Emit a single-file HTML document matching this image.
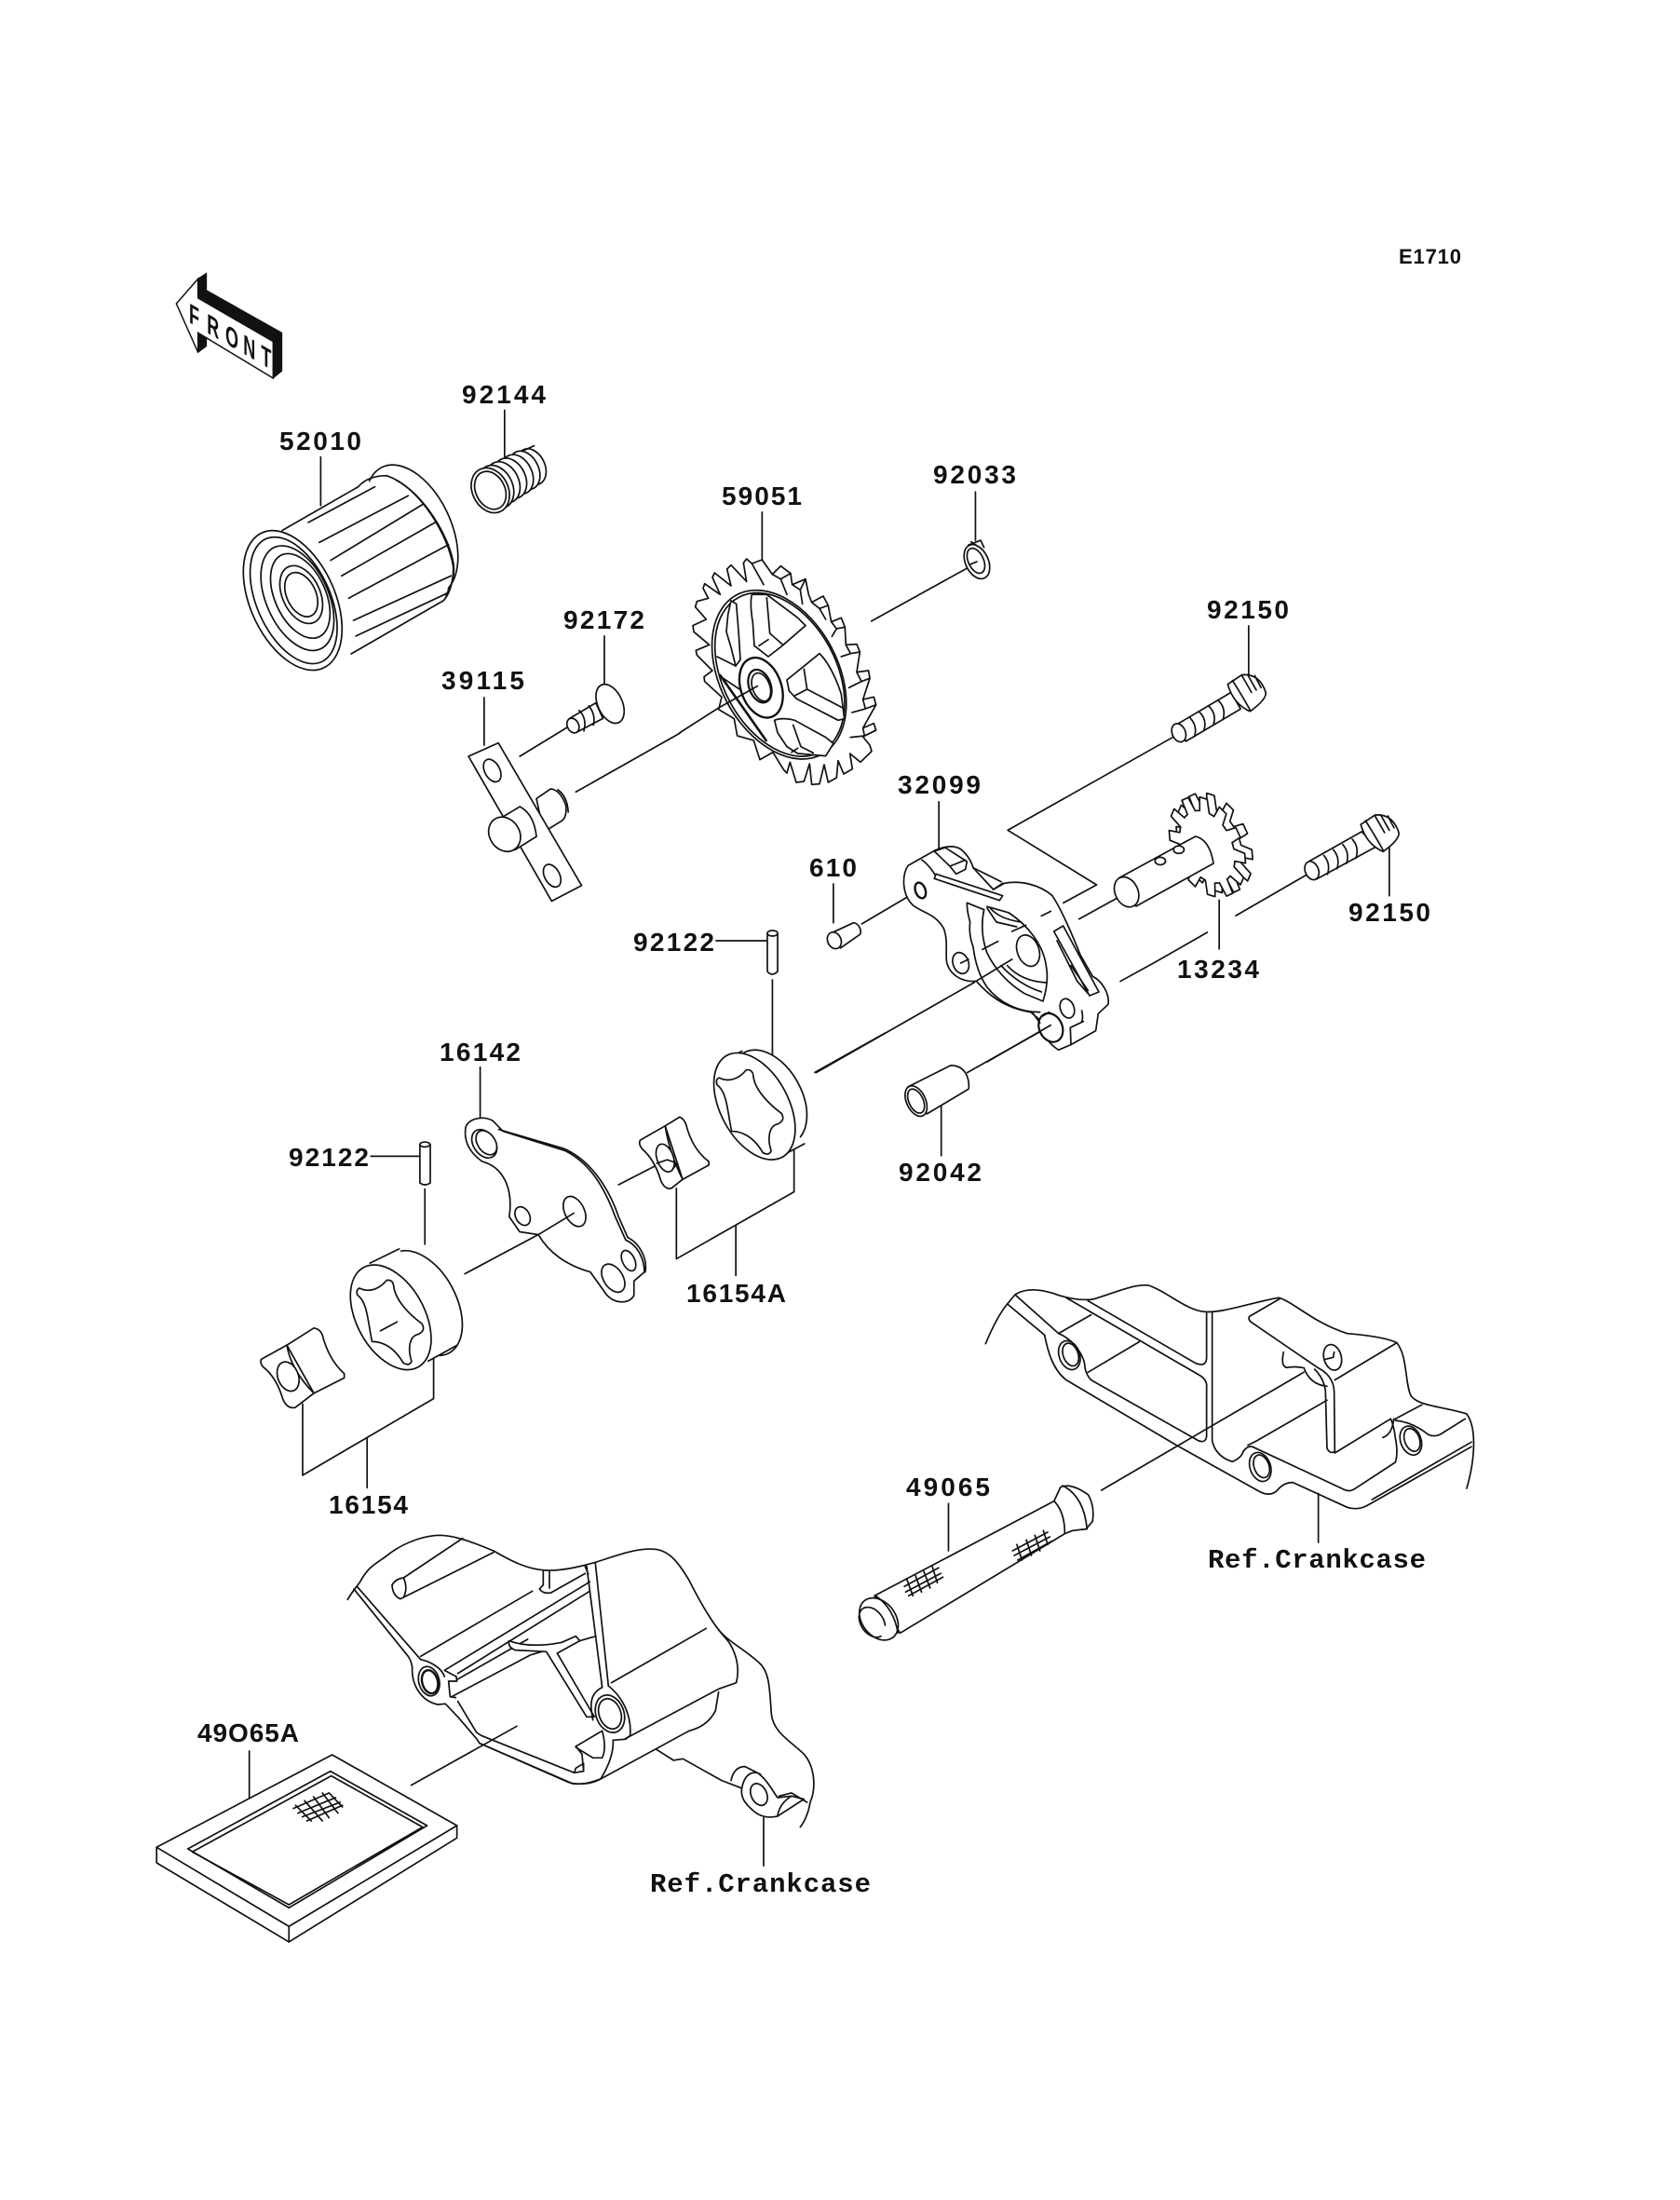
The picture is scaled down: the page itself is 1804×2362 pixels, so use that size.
<!DOCTYPE html>
<html><head><meta charset="utf-8"><style>
html,body{margin:0;padding:0;background:#fff}
svg{display:block}
svg *{vector-effect:non-scaling-stroke}
.d{fill:#fff;stroke:#111;stroke-width:1.7;stroke-linejoin:round;stroke-linecap:round}
.d .n,.n{fill:none}
text{font-family:"Liberation Sans",sans-serif;font-size:28px;font-weight:bold;fill:#111}
.m{font-family:"Liberation Mono",monospace;font-size:29px;font-weight:bold}
</style></head><body>
<svg width="1804" height="2362" viewBox="0 0 1804 2362" xmlns="http://www.w3.org/2000/svg">
<defs>
<polyline id="s" points="69.5,-18.6 70.9,-12.5 99.3,-10 99.3,10 70.9,12.5 69.5,18.6"/>
<g id="gear12"><circle r="70" stroke="none"/>
<use href="#s"/><use href="#s" transform="rotate(30)"/><use href="#s" transform="rotate(60)"/><use href="#s" transform="rotate(90)"/><use href="#s" transform="rotate(120)"/><use href="#s" transform="rotate(150)"/><use href="#s" transform="rotate(180)"/><use href="#s" transform="rotate(210)"/><use href="#s" transform="rotate(240)"/><use href="#s" transform="rotate(270)"/><use href="#s" transform="rotate(300)"/><use href="#s" transform="rotate(330)"/>
</g>
</defs>
<rect width="1804" height="2362" fill="#fff"/>

<!-- FRONT arrow -->
<g transform="translate(170,270) scale(.3333)">
<path fill="#111" stroke="#111" stroke-width="1" d="M128,88 L155,70 L155,125 L398,262 L398,385 L370,408 L370,290 L130,150Z"/>
<path fill="#111" stroke="#111" stroke-width="1" d="M128,325 L155,305 L155,270 L128,262Z"/>
<path fill="#fff" stroke="#111" stroke-width="1.5" d="M128,88 L58,168 L128,325 L128,262 L370,408 L370,290 L128,150Z"/>
</g>
<text transform="matrix(.6,.346,0,1,203,346)" x="0 32 65 97 129" y="0" style="font-size:30px">FRONT</text>

<g class="d" transform="translate(150,250) scale(.5102,.4783)">
<!-- leaders -->
<path class="n" d="M768,398V505M381,503V612M1310,627V740M978,905V1015M725,1043V1150M800,1175L900,1110M918,1255L1137,1123"/>
<!-- oil filter 52010 -->
<ellipse cx="572" cy="668" rx="85" ry="155" transform="rotate(-22 572 668)"/>
<path class="n" d="M540,555 C600,590 650,680 660,740 C665,770 655,800 640,818"/>
<path stroke="none" d="M300,668 L480,555 L660,760 L640,825 L445,945Z"/>
<path class="n" d="M300,668 L460,570 M445,945 L640,825 M460,570 Q480,545 520,545 C590,570 650,680 660,750 Q660,800 640,825 M355,650L495,570 M378,695L565,590 M402,735L595,610 M425,770L622,650 M440,820L650,700 M450,870L655,770 M455,905L645,810"/>
<ellipse cx="322" cy="825" rx="90" ry="165" transform="rotate(-22 322 825)"/>
<ellipse cx="324" cy="825" rx="78" ry="150" transform="rotate(-22 324 825)"/>
<ellipse cx="332" cy="820" rx="66" ry="124" transform="rotate(-22 332 820)"/>
<ellipse cx="338" cy="815" rx="54" ry="100" transform="rotate(-22 338 815)"/>
<ellipse cx="340" cy="812" rx="40" ry="68" transform="rotate(-22 340 812)"/>
<ellipse cx="340" cy="812" rx="31" ry="52" transform="rotate(-22 340 812)"/>
<!-- spring 92144 -->
<ellipse cx="825" cy="525" rx="28" ry="42" transform="rotate(-22 825 525)"/>
<ellipse cx="810" cy="533" rx="30" ry="45" transform="rotate(-22 810 533)"/>
<ellipse cx="795" cy="542" rx="31" ry="46" transform="rotate(-22 795 542)"/>
<ellipse cx="780" cy="551" rx="32" ry="47" transform="rotate(-22 780 551)"/>
<ellipse cx="765" cy="560" rx="33" ry="48" transform="rotate(-22 765 560)"/>
<ellipse cx="750" cy="570" rx="35" ry="50" transform="rotate(-22 750 570)"/>
<ellipse cx="738" cy="578" rx="38" ry="52" transform="rotate(-22 738 578)"/>
<ellipse cx="738" cy="578" rx="31" ry="44" transform="rotate(-22 738 578)"/>
<path class="n" d="M805,490 L830,478"/>
<!-- screw 92172 -->
<path d="M905,1090 L960,1055 L975,1090 L918,1122Z"/>
<ellipse cx="912" cy="1106" rx="12" ry="17" transform="rotate(-22 912 1106)"/>
<path class="n" d="M925,1072Q942,1090 935,1118 M945,1062Q960,1080 955,1105"/>
<ellipse cx="990" cy="1057" rx="26" ry="46" transform="rotate(-22 990 1057)"/>
<!-- plate 39115 -->
<path d="M835,1270 L865,1248 Q885,1250 897,1285 Q900,1315 885,1322 L850,1345Z"/>
<path class="n" d="M880,1250 Q900,1265 902,1300"/>
<path d="M692,1175 L755,1145 L930,1465 L867,1500Z"/>
<ellipse cx="742" cy="1207" rx="16" ry="27" transform="rotate(-25 742 1207)"/>
<ellipse cx="868" cy="1443" rx="16" ry="27" transform="rotate(-25 868 1443)"/>
<path d="M750,1320 L800,1288 Q830,1305 835,1355 L790,1385Z"/>
<ellipse cx="768" cy="1350" rx="32" ry="40" transform="rotate(-25 768 1350)"/>
</g>

<!-- sprocket 59051 -->
<g class="d" transform="translate(730,585) scale(.3333)">
<path d="M42,260 L85,240 L50,200 L55,182 L92,172 L75,140 L80,125 L130,160 L105,105 L112,90 L165,132 L152,78 L165,65 L215,118 L205,58 L215,45 L232,60 L265,48 L298,95 L325,68 L357,92 L362,128 L405,110 L415,160 L425,185 L462,165 L478,195 L488,248 L520,235 L532,265 L535,322 L570,320 L580,345 L570,410 L608,405 L612,430 L590,498 L625,490 L632,515 L590,590 L625,575 L632,597 L590,618 L612,645 L618,665 L582,700 L548,672 L556,722 L528,738 L510,695 L505,750 L478,765 L465,708 L450,770 L425,772 L418,705 L400,762 L375,765 L355,700 L345,735 L335,725 L300,668 L258,692 L238,630 L185,615 L175,560 L125,530 L135,490 L80,440 L78,425 L105,405 L55,355 L52,340 L95,322 L45,280Z"/>
<path class="n" d="M232,60 L270,128 M298,95 L325,110 L357,92 M325,110 L345,160 M362,128 L388,145 L405,110 M388,145 L395,190 M425,185 L450,205 L478,195 M450,205 L470,240 M488,248 L505,270 L532,265 M505,270 L490,295 M535,322 L550,350 L580,345 M550,350 L520,360 M570,410 L585,440 L612,430 M585,440 L545,460 M590,498 L598,528 L632,515 M598,528 L555,540 M590,590 L595,615 L632,597 M595,615 L550,620"/>
<ellipse cx="320" cy="418" rx="190" ry="291" transform="rotate(-28 320 418)"/>
<ellipse cx="322" cy="418" rx="183" ry="282" transform="rotate(-28 322 418)"/>
<path d="M165,180 L155,225 L150,280 L165,330 L180,390 L195,370 L190,290 L182,190Z"/>
<path class="n" d="M120,360 L180,390"/>
<path d="M232,160 Q225,190 235,250 L240,325 L285,360 L330,325 L405,260 L380,235 L280,160Z"/>
<path class="n" d="M280,170 L290,285 L330,320 M255,325 L285,305"/>
<path d="M450,350 L345,435 L352,470 L375,495 L510,565 L530,560 L520,480 Q490,390 450,350Z"/>
<path class="n" d="M400,400 L410,465 L525,525 M372,485 L410,465"/>
<path d="M305,565 L315,605 L345,650 L380,672 L470,680 L495,640 L470,620 L370,565 Q330,555 305,565Z"/>
<path class="n" d="M365,580 L390,650 L430,670 M360,668 L380,655"/>
<path class="n" style="stroke-width:2.6" d="M130,420 L278,630"/>
<path class="n" d="M140,430 L215,480"/>
<ellipse cx="262" cy="460" rx="65" ry="100" transform="rotate(-20 262 460)" style="stroke-width:2.4"/>
<ellipse cx="258" cy="455" rx="35" ry="55" transform="rotate(-20 258 455)" style="stroke-width:2.2"/>
<ellipse cx="262" cy="458" rx="28" ry="47" transform="rotate(-20 262 458)"/>
<path class="n" d="M0,605 L125,525 L250,455"/>
</g>

<g class="d" transform="translate(850,450) scale(.5102)">
<path class="n" d="M387,153V255M168,425L385,305M962,435V540M455,865L805,668M455,865L642,980L572,1018M310,805V905M88,978V1060M148,1062L270,990M52,1375L385,1185M370,1375L530,1285M315,1445V1550M605,1052L685,1008M900,1012V1115M692,1183L770,1140L875,1080M935,1045L1082,960M1258,900V1003"/>
<!-- clip 92033 -->
<ellipse cx="390" cy="300" rx="24" ry="38" transform="rotate(-25 390 300)"/>
<path class="n" d="M372,265L398,255L405,270M378,258L392,268"/>
<ellipse cx="388" cy="298" rx="16" ry="28" transform="rotate(-25 388 298)"/>
<path class="n" d="M375,306 L390,300"/>
<!-- bolt 92150 top -->
<path d="M815,640 L925,575 L945,610 L830,678Z"/>
<ellipse cx="815" cy="660" rx="14" ry="20" transform="rotate(-22 815 660)"/>
<path class="n" d="M838,628Q855,645 848,668 M858,616Q875,632 868,655 M878,604Q895,620 888,643 M898,592Q915,608 908,632"/>
<path d="M918,558 L948,538 Q985,535 998,575 Q1000,590 965,615 Q930,600 918,558Z"/>
<path class="n" d="M928,550 Q950,585 965,612 M948,540 L968,575 M960,538 L978,570 M975,540 L988,565"/>
<!-- shaft gear 13234 -->
<g transform="translate(890,892) rotate(-25) scale(.72,1.12)"><use href="#gear12"/></g>
<g transform="translate(875,900) rotate(-25) scale(.72,1.12)"><use href="#gear12"/></g>
<path d="M690,965 L850,878 Q880,885 888,935 L725,1025Z"/>
<ellipse cx="705" cy="995" rx="24" ry="33" transform="rotate(-25 705 995)"/>
<ellipse cx="815" cy="906" rx="11" ry="8"/>
<ellipse cx="776" cy="930" rx="11" ry="8"/>
<!-- bolt 92150 lower -->
<path d="M1090,930 L1200,868 L1230,900 L1105,968Z"/>
<ellipse cx="1095" cy="950" rx="14" ry="20" transform="rotate(-22 1095 950)"/>
<path class="n" d="M1120,918Q1135,935 1128,958 M1140,906Q1155,923 1148,946 M1160,895Q1175,912 1168,935 M1180,884Q1195,900 1188,924"/>
<g transform="translate(280,295)">
<path d="M918,558 L948,538 Q985,535 998,575 Q1000,590 965,615 Q930,600 918,558Z"/>
<path class="n" d="M928,550 Q950,585 965,612 M948,540 L968,575 M960,538 L978,570 M975,540 L988,565"/>
</g>
<!-- dowel 610 -->
<path d="M80,1083 L130,1060 C142,1060 150,1080 143,1085 L103,1113Z"/>
<ellipse cx="90" cy="1097" rx="14" ry="18" transform="rotate(-25 90 1097)"/>
<!-- collar 92042 -->
<path d="M245,1405 L335,1360 C375,1360 375,1405 372,1410 L285,1462Z"/>
<ellipse cx="262" cy="1435" rx="20" ry="34" transform="rotate(-25 262 1435)"/>
<ellipse cx="262" cy="1435" rx="15" ry="27" transform="rotate(-25 262 1435)"/>
</g>

<!-- pump body 32099 -->
<g class="d" transform="translate(960,890) scale(.3333)">
<path d="M45,118 C25,150 25,210 60,245 C90,270 130,270 160,320 C175,360 165,400 170,430 C180,470 220,495 265,490 C300,530 350,575 440,590 L470,615 Q480,680 530,712 L570,695 L650,650 L658,595 L690,565 C695,530 670,490 640,475 L600,405 C570,330 540,260 510,215 C470,180 410,165 355,175 L320,195 L255,125 Q245,90 215,65 Q190,50 150,62 L130,70Z"/>
<path d="M130,72 L165,60 L235,105 L230,130 L200,145 L180,120Z"/>
<path class="n" d="M180,120 L230,100 M90,100 C120,120 130,150 140,155 M255,125 L345,170 M320,195 L350,175"/>
<path d="M135,145 L350,215 L340,230 L130,160Z"/>
<path class="n" d="M235,238 L290,260 M235,238 Q235,265 245,300 Q240,340 255,380 Q265,460 300,510 C340,560 400,590 470,590"/>
<path class="n" d="M290,260 Q275,330 300,400 Q340,480 420,530 L480,555 Q500,490 490,440 C480,370 430,310 370,270 L300,250 M300,255 L330,300 L395,315 M310,255 Q340,290 410,300 M345,440 Q400,500 475,525 M365,440 Q410,490 490,495"/>
<ellipse cx="432" cy="392" rx="35" ry="52" transform="rotate(-20 432 392)"/>
<path class="n" d="M285,388 L335,362 M380,330 L425,310 M475,280 L505,265 M265,490 L380,420"/>
<path d="M515,330 L545,312 L660,525 L630,537Z"/>
<path class="n" d="M525,360 Q560,430 590,490 L625,530 M570,440 L625,520"/>
<ellipse cx="85" cy="198" rx="16" ry="26" transform="rotate(-20 85 198)" style="stroke-width:2.4"/>
<ellipse cx="215" cy="432" rx="25" ry="35" transform="rotate(-20 215 432)"/>
<path class="n" d="M215,432 L240,420"/>
<ellipse cx="558" cy="578" rx="22" ry="32" transform="rotate(-20 558 578)"/>
<ellipse cx="505" cy="640" rx="37" ry="48" transform="rotate(-25 505 640)" style="stroke-width:2.2"/>
<path class="n" d="M445,590 L470,625 M500,590 L475,605 M570,695 L568,640 L610,620 M605,585 Q610,610 605,620 M300,750 L505,632"/>
</g>

<!-- upper pin 92122 -->
<g class="d">
<path class="n" d="M769,1010H824"/>
<path d="M824,1002 H835 V1043 Q829,1049 824,1043Z"/>
<ellipse cx="829.5" cy="1002" rx="5.5" ry="3"/>
</g>

<g class="d" transform="translate(250,1050) scale(.4464,.3827)">
<path class="n" d="M1298,5V215M1400,265L1568,155M332,500H450M462,592V747M595,250V390M1350,480V600L1067,788V590M1210,695V835M483,1065V1180L168,1395V1195M323,1290V1430M928,580L1045,510M558,830L735,720"/>
<!-- pin -->
<path d="M450,467 H475 V575 Q462,585 450,575Z"/>
<ellipse cx="462" cy="467" rx="12" ry="7"/>
<!-- plate 16142 -->
<path d="M560,420 C565,395 600,385 625,400 L650,430 L800,485 C860,520 895,590 920,670 L945,735 C975,750 990,790 990,825 L965,850 L965,890 C955,915 920,915 900,890 L860,825 C800,805 760,770 735,720 L690,712 L665,670 C675,590 650,530 600,515 C570,490 555,460 560,420Z"/>
<path class="n" d="M640,425 L795,478 C860,510 905,590 928,670 L950,728 C980,745 998,790 992,825"/>
<ellipse cx="605" cy="465" rx="27" ry="42" transform="rotate(-25 605 465)"/>
<ellipse cx="610" cy="462" rx="22" ry="36" transform="rotate(-25 610 462)"/>
<ellipse cx="697" cy="668" rx="17" ry="27" transform="rotate(-20 697 668)"/>
<ellipse cx="822" cy="655" rx="24" ry="44" transform="rotate(-20 822 655)"/>
<ellipse cx="952" cy="793" rx="15" ry="30" transform="rotate(-20 952 793)"/>
<ellipse cx="915" cy="842" rx="24" ry="42" transform="rotate(-25 915 842)"/>
<path class="n" d="M735,720 L820,660"/>
<!-- upper outer rotor -->
<ellipse cx="1290" cy="335" rx="80" ry="140" transform="rotate(-22 1290 335)"/>
<path stroke="none" d="M1190,225 L1225,205 L1375,465 L1335,490Z"/>
<path class="n" d="M1190,225 L1225,205 M1335,490 L1375,465"/>
<ellipse cx="1255" cy="360" rx="84" ry="158" transform="rotate(-22 1255 360)"/>
<path d="M1170,280 C1195,295 1220,280 1235,258 Q1250,255 1252,275 C1255,310 1285,350 1320,380 Q1330,400 1310,410 C1290,415 1285,450 1295,485 Q1290,500 1275,490 C1250,440 1220,430 1200,430 C1190,380 1190,320 1165,300 Q1160,285 1170,280Z"/>
<!-- upper inner rotor -->
<path d="M1040,415 L1075,390 Q1085,395 1090,410 Q1105,480 1145,515 L1145,525 L1082,565Z"/>
<path d="M980,455 L1040,415 Q1050,490 1082,565 L1055,590 Q1040,595 1030,570 Q1015,510 985,480 Q975,465 980,455Z"/>
<ellipse cx="1040" cy="505" rx="20" ry="40" transform="rotate(-15 1040 505)"/>
<path class="n" d="M1020,520L1045,510L1070,520L1058,536"/>
<!-- lower outer rotor -->
<ellipse cx="455" cy="912" rx="84" ry="155" transform="rotate(-22 455 912)"/>
<path stroke="none" d="M330,800 L400,760 L540,1030 L470,1075Z"/>
<path class="n" d="M330,800 L400,760 M470,1075 L540,1030"/>
<ellipse cx="380" cy="952" rx="84" ry="155" transform="rotate(-22 380 952)"/>
<g transform="translate(-865,590)"><path d="M1170,280 C1195,295 1220,280 1235,258 Q1250,255 1252,275 C1255,310 1285,350 1320,380 Q1330,400 1310,410 C1290,415 1285,450 1295,485 Q1290,500 1275,490 C1250,440 1220,430 1200,430 C1190,380 1190,320 1165,300 Q1160,285 1170,280Z"/></g>
<path class="n" d="M355,990 L395,965"/>
<!-- lower inner rotor -->
<path d="M130,1030 L195,982 Q210,985 215,1000 Q230,1070 268,1110 L268,1122 L195,1165Z"/>
<path d="M68,1070 L130,1030 Q140,1100 195,1165 L150,1205 Q130,1210 120,1180 Q105,1120 72,1090 Q65,1080 68,1070Z"/>
<ellipse cx="133" cy="1118" rx="25" ry="42" transform="rotate(-15 133 1118)"/>
</g>

<!-- strainer 49065 -->
<g class="d" transform="translate(900,1350) scale(.4592,.3333)">
<path class="n" d="M258,793V945"/>
<path d="M85,1090 L505,785 L520,740 Q545,725 585,765 Q600,800 595,850 L580,875 L548,880 L530,890 L145,1210Z"/>
<path class="n" d="M505,785 Q530,820 530,890 M525,735 Q575,770 582,875"/>
<ellipse cx="95" cy="1165" rx="42" ry="70" transform="rotate(-18 95 1165)"/>
<path class="n" d="M88,1090 Q130,1130 140,1210 M100,1220 A28,50 -18 1 1 110,1185"/>
<path class="n" d="M155,1060L235,1000 M158,1078L240,1018 M165,1090L245,1030 M160,1035L175,1090 M180,1022L195,1078 M200,1010L215,1065 M220,995L232,1048 M408,945L490,885 M412,960L495,900 M420,975L498,915 M418,925L430,975 M440,910L452,960 M460,895L472,945 M480,880L490,925"/>
</g>

<!-- crankcase right -->
<g class="d n" transform="translate(1050,1370) scale(.3333)">
<path class="n" d="M25,218 C45,170 70,120 95,90 L120,60 C150,40 190,40 240,55 C280,70 330,80 370,75 C440,55 500,25 550,30 C610,50 670,110 730,115 C790,120 880,85 970,70 C1020,85 1080,150 1190,185 C1250,190 1320,200 1350,215 C1385,260 1375,340 1395,385 C1420,420 1500,420 1575,444 C1608,489 1602,591 1575,684"/>
<path class="n" d="M95,90 L215,190 C225,240 240,300 285,335 L640,545 L900,690 Q940,715 965,690 Q985,665 1015,665 L1190,745 Q1220,755 1251,741 L1590,550"/>
<path class="n" d="M120,60 L260,185 C310,205 345,260 345,295 Q350,320 365,335 L710,530 Q735,540 737,515 V360 Q740,335 715,320 L285,70"/>
<path class="n" d="M355,80 L700,280 Q735,295 737,265 V115 M755,115 V530 Q765,580 820,598 Q850,585 855,565 Q870,545 885,550 L1185,690 Q1200,695 1215,685 L1345,600 Q1355,570 1345,520 Q1340,480 1330,460 L1150,570"/>
<path class="n" d="M975,72 L875,130 Q870,140 880,148 L1095,295 Q1145,320 1148,370 L1150,565 Q1135,575 1125,555 L1120,370 Q1115,330 1085,300"/>
<path class="n" d="M260,185 L365,125 M355,310 L520,212 M870,545 L900,530 L1125,400 M1150,335 L1350,215 M1345,460 L1430,415 M1345,465 Q1400,470 1450,510 Q1470,520 1490,510 L1570,460 M1340,460 Q1335,510 1305,520 M1270,720 L1590,535"/>
<path class="n" d="M985,245 Q975,290 995,295 Q1020,290 1045,295 M1050,295 Q1070,350 1125,355 M1097,700 V858 M398,690 L1050,310"/>
<ellipse cx="295" cy="255" rx="33" ry="48" transform="rotate(-20 295 255)" class="n"/>
<ellipse cx="299" cy="253" rx="24" ry="38" transform="rotate(-20 299 253)" class="n"/>
<ellipse cx="910" cy="615" rx="33" ry="48" transform="rotate(-20 910 615)" class="n"/>
<ellipse cx="914" cy="613" rx="24" ry="38" transform="rotate(-20 914 613)" class="n"/>
<ellipse cx="1395" cy="530" rx="33" ry="48" transform="rotate(-20 1395 530)" class="n"/>
<ellipse cx="1399" cy="528" rx="24" ry="38" transform="rotate(-20 1399 528)" class="n"/>
<ellipse cx="1143" cy="262" rx="28" ry="42" transform="rotate(-15 1143 262)" class="n"/>
<path class="n" d="M1120,268 L1145,262 L1148,245"/>
</g>

<!-- oil screen 49065A -->
<g class="d" transform="translate(150,1630) scale(.4784,.3333)">
<path class="n" d="M246,750V900"/>
<path d="M38,1060 L432,762 L712,990 V1030 L335,1365 L38,1110Z"/>
<path class="n" d="M38,1060 L335,1315 L712,990 M335,1315 V1365"/>
<path d="M108,1065 L428,815 L645,990 L335,1255Z"/>
<path class="n" d="M118,1075 L430,830 L635,995 L335,1245Z"/>
<path class="n" d="M345,935L425,885 M355,950L440,900 M365,962L450,915 M375,975L455,925 M350,925L385,975 M370,910L410,975 M390,897L425,965 M410,885L445,950 M425,885L455,930"/>
</g>

<!-- crankcase left -->
<g class="d" transform="translate(370,1630) scale(.3333)">
<path class="n" d="M10,262 C25,235 40,220 50,205 C80,150 100,150 150,110 C200,75 260,55 310,55 C370,58 430,85 480,105 C540,140 590,165 650,168 C700,170 770,155 830,135 C890,115 950,95 1000,100 C1050,105 1080,150 1110,200 C1140,260 1180,330 1210,365 C1240,400 1300,430 1340,470 C1370,500 1370,560 1375,630 C1380,690 1440,720 1480,760 C1515,800 1520,870 1500,915 C1495,950 1480,980 1468,995"/>
<path class="n" d="M30,228 L205,445 Q215,460 218,480 C215,540 250,590 300,600 L325,598 L365,640 L425,710 L435,725 L720,850 Q760,865 825,840 L1110,685 Q1170,670 1195,620 L1205,560"/>
<path class="n" d="M40,220 L245,455 C290,465 315,490 322,510 M905,710 L1205,550 L1262,530 C1275,480 1260,430 1235,395 M1205,360 L1235,395"/>
<path class="n" d="M322,490 L360,510 L362,525 L335,525 L340,575 L358,578 M322,490 L790,205 M365,500 L790,235 M362,520 L590,390 M345,575 L600,440 L810,380 M245,445 L605,235 M860,530 L1165,355"/>
<path class="n" d="M153,215 Q155,250 180,260 L480,110 M190,192 L380,65 M190,192 Q165,195 153,215 M190,192 Q205,225 190,255"/>
<path class="n" d="M640,168 V215 L628,228 Q640,245 665,240 L775,178 M660,172 V225 M775,155 L785,180 M780,155 L830,545 M808,145 L850,540"/>
<path d="M530,395 Q600,420 700,400 L745,380 L758,395 L685,435 L805,640 L780,640 L650,430 L550,425 Q525,415 530,395Z"/>
<path class="n" d="M830,545 C790,565 790,600 800,650 M850,540 C900,580 925,640 920,700 L905,712 L865,715"/>
<path class="n" d="M365,590 L425,690 L440,700 L740,820 L770,815 L770,790 L745,805 L740,820 M770,815 L765,760 L745,735 L830,685 Q845,740 830,772 L800,772 L745,738 M865,715 Q868,770 825,840 Q790,860 735,855 L435,725"/>
<ellipse cx="272" cy="525" rx="33" ry="48" transform="rotate(-15 272 525)" class="n"/>
<ellipse cx="275" cy="527" rx="25" ry="38" transform="rotate(-15 275 527)" class="n" style="stroke-width:2.4"/>
<ellipse cx="855" cy="630" rx="45" ry="62" transform="rotate(-20 855 630)" class="n"/>
<ellipse cx="855" cy="630" rx="35" ry="50" transform="rotate(-20 855 630)" class="n"/>
<path class="n" d="M215,860 L555,670 M1005,745 L1060,780 L1090,775 L1215,845 L1280,870"/>
<path class="n" d="M1245,845 Q1255,800 1290,800 L1340,825"/>
<path d="M1280,870 C1285,840 1300,815 1330,820 C1360,840 1380,880 1395,900 L1440,895 L1480,905 L1395,960 Q1350,970 1320,945 C1290,920 1275,900 1280,870Z"/>
<ellipse cx="1335" cy="890" rx="25" ry="37" transform="rotate(-25 1335 890)"/>
<path class="n" d="M1395,960 Q1400,920 1440,895 M1400,895 L1440,885 L1490,915 M1350,965 V1120"/>
</g>

<!-- labels -->
<text x="1502" y="283" textLength="67" style="font-size:22px">E1710</text>
<text x="496" y="433" textLength="90">92144</text>
<text x="300" y="483" textLength="88">52010</text>
<text x="775" y="542" textLength="86">59051</text>
<text x="605" y="675" textLength="87">92172</text>
<text x="474" y="740" textLength="89">39115</text>
<text x="869" y="941" textLength="51">610</text>
<text x="1002" y="519" textLength="89">92033</text>
<text x="1296" y="664" textLength="88">92150</text>
<text x="964" y="852" textLength="89">32099</text>
<text x="1448" y="989" textLength="88">92150</text>
<text x="1264" y="1050" textLength="88">13234</text>
<text x="965" y="1268" textLength="89">92042</text>
<text x="472" y="1139" textLength="87">16142</text>
<text x="310" y="1252" textLength="86">92122</text>
<text x="680" y="1021" textLength="87">92122</text>
<text x="737" y="1398" textLength="107">16154A</text>
<text x="353" y="1625" textLength="85">16154</text>
<text x="973" y="1606" textLength="90">49065</text>
<text x="212" y="1870" textLength="109">49O65A</text>
<text class="m" x="1297" y="1683" textLength="234">Ref.Crankcase</text>
<text class="m" x="698" y="2031" textLength="237">Ref.Crankcase</text>
</svg>
</body></html>
